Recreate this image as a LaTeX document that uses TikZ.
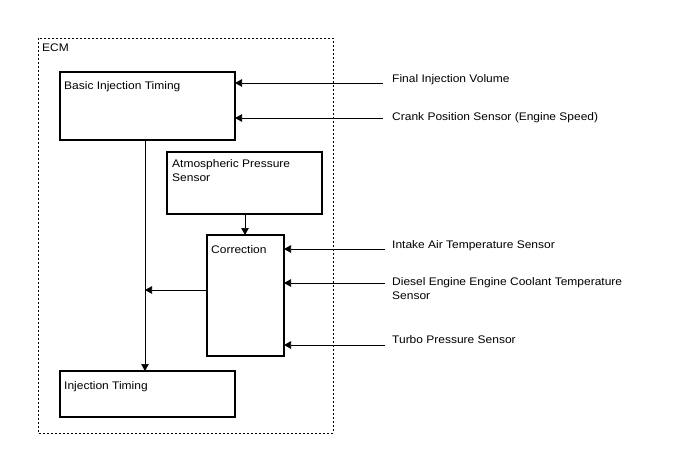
\documentclass[tikz,border=0pt]{standalone}
\usepackage{fontspec}
\setmainfont[FakeStretch=1.09]{Liberation Sans}
\usetikzlibrary{arrows.meta}
\begin{document}
\begin{tikzpicture}[x=1pt,y=-1pt,
  every node/.style={font=\fontsize{11}{14}\selectfont},
  blk/.style={draw,line width=1.1pt},
  lbl/.style={anchor=base west,inner sep=0pt,align=left},
  arr/.style={line width=0.6pt,-{Triangle[length=7pt,width=7.5pt]}}]
\useasboundingbox (0,0) rectangle (688,463);
\draw[line width=0.8pt,dash pattern=on 2pt off 2pt] (38,38) rectangle (333,433);
\node[lbl] (ecm) at (42,51) {ECM};
% boxes
\draw[blk] (60,72) rectangle (235,140);
\node[lbl] (bit) at (64,89) {Basic Injection Timing};
\draw[blk] (167,152) rectangle (322,214);
\node[lbl] (aps) at (172,181) {Atmospheric Pressure\\Sensor};
\draw[blk] (207,235) rectangle (284,356);
\node[lbl] (cor) at (211,253) {Correction};
\draw[blk] (60,371) rectangle (235,417);
\node[lbl] (it) at (64,389) {Injection Timing};
% coordinates
\coordinate (bitb) at (145,140);
\coordinate (itt) at (145,371);
\coordinate (apsb) at (245,214);
\coordinate (cort) at (245,235);
\coordinate (corl) at (207,290);
\coordinate (vl) at (145,290);
% internal connectors
\draw[arr] (bitb) -- (itt);
\draw[arr] (apsb) -- (cort);
\draw[arr] (corl) -- (vl);
% external labels
\node[lbl] (fiv) at (392,82) {Final Injection Volume};
\node[lbl] (cps) at (392,120) {Crank Position Sensor (Engine Speed)};
\node[lbl] (iat) at (392,248) {Intake Air Temperature Sensor};
\node[lbl] (ect) at (392,299) {Diesel Engine Engine Coolant Temperature\\Sensor};
\node[lbl] (tps) at (392,343) {Turbo Pressure Sensor};
\coordinate (s1) at (383,83);
\coordinate (s2) at (383,118);
\coordinate (s3) at (385,249);
\coordinate (s4) at (385,283);
\coordinate (s5) at (385,345);
\draw[arr] (s1) -- (235,83);
\draw[arr] (s2) -- (235,118);
\draw[arr] (s3) -- (284,249);
\draw[arr] (s4) -- (284,283);
\draw[arr] (s5) -- (284,345);
\end{tikzpicture}
\end{document}
